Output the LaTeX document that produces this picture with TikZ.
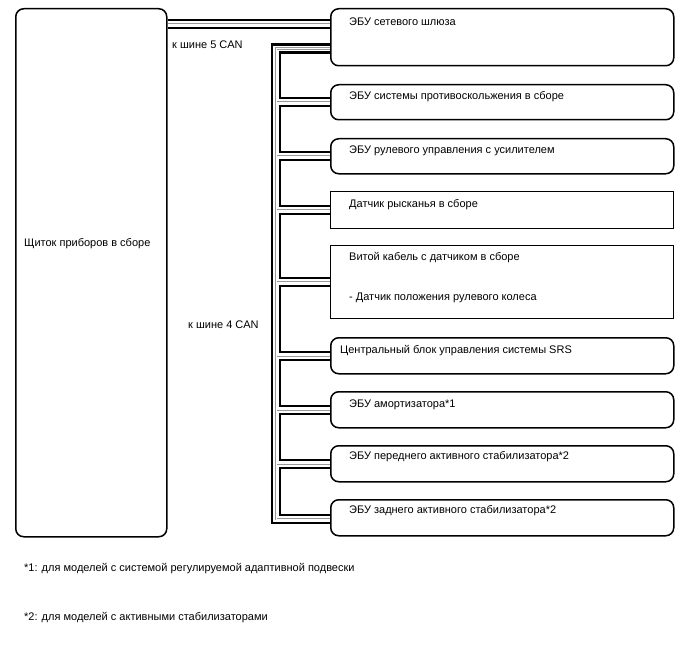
\documentclass[tikz,border=0pt]{standalone}
\usepackage{fontspec}
\setmainfont{Liberation Sans}
\begin{document}
\begin{tikzpicture}[x=1pt,y=-1pt,
  box/.style={draw=black,line width=1.5pt,rounded corners=8pt,fill=white,inner sep=0pt,anchor=north west},
  sqbox/.style={box,rounded corners=0pt,line width=1.1pt},
  txt/.style={anchor=west,inner sep=0pt,font=\fontsize{11}{13}\selectfont},
]
\useasboundingbox (0,0) rectangle (688,658);
% boxes
\node[box,minimum width=151pt,minimum height=528pt] (b0) at (15,8) {};
\node[box,minimum width=343pt,minimum height=57pt] (b1) at (330,8) {};
\node[box,minimum width=343pt,minimum height=35pt] (b2) at (330,84) {};
\node[box,minimum width=343pt,minimum height=35pt] (b3) at (330,138) {};
\node[sqbox,minimum width=343pt,minimum height=37pt] (b4) at (330,191) {};
\node[sqbox,minimum width=343pt,minimum height=73pt] (b5) at (330,245) {};
\node[box,minimum width=343pt,minimum height=36pt] (b6) at (330,337) {};
\node[box,minimum width=343pt,minimum height=36pt] (b7) at (330,391) {};
\node[box,minimum width=343pt,minimum height=36pt] (b8) at (330,445) {};
\node[box,minimum width=343pt,minimum height=36pt] (b9) at (330,499) {};
% bus coordinates
\coordinate (c5) at (0,24);
\coordinate (t1) at (276,48.5);
\coordinate (t9) at (276,519);
\newcommand{\cablepaths}{%
  (b0.east |- c5) -- (b1.west |- c5)
  (b1.west |- t1) -- (t1) -- (t9) -- (b9.west |- t9)
  (t1 |- b2.west) -- (b2.west)
  (t1 |- b3.west) -- (b3.west)
  (t1 |- b4.west) -- (b4.west)
  (t1 |- b5.west) -- (b5.west)
  (t1 |- b6.west) -- (b6.west)
  (t1 |- b7.west) -- (b7.west)
  (t1 |- b8.west) -- (b8.west)}
\draw[line width=10.5pt,black] \cablepaths;
\draw[line width=5.5pt,white] \cablepaths;
\draw[line width=2.2pt,black!40] \cablepaths;
\draw[line width=0.7pt,white] \cablepaths;
% texts
\node[txt] (l0) at (24,243.5) {Щиток приборов в сборе};
\node[txt] (l1) at (349,21.5) {ЭБУ сетевого шлюза};
\node[txt] (l2) at (349,96.5) {ЭБУ системы противоскольжения в сборе};
\node[txt] (l3) at (349,150.5) {ЭБУ рулевого управления с усилителем};
\node[txt] (l4) at (349,204.5) {Датчик рысканья в сборе};
\node[txt] (l5a) at (349,257.5) {Витой кабель с датчиком в сборе};
\node[txt] (l5b) at (349,297.5) {- Датчик положения рулевого колеса};
\node[txt] (l6) at (340,350.5) {Центральный блок управления системы SRS};
\node[txt] (l7) at (349,404.5) {ЭБУ амортизатора*1};
\node[txt] (l8) at (349,456.5) {ЭБУ переднего активного стабилизатора*2};
\node[txt] (l9) at (349,510.5) {ЭБУ заднего активного стабилизатора*2};
\node[txt] (can5) at (172,44.5) {к шине 5 CAN};
\node[txt] (can4) at (188,324.5) {к шине 4 CAN};
\node[txt] (f1) at (24,568.5) {*1: для моделей с системой регулируемой адаптивной подвески};
\node[txt] (f2) at (24,617.5) {*2: для моделей с активными стабилизаторами};
\end{tikzpicture}
\end{document}
